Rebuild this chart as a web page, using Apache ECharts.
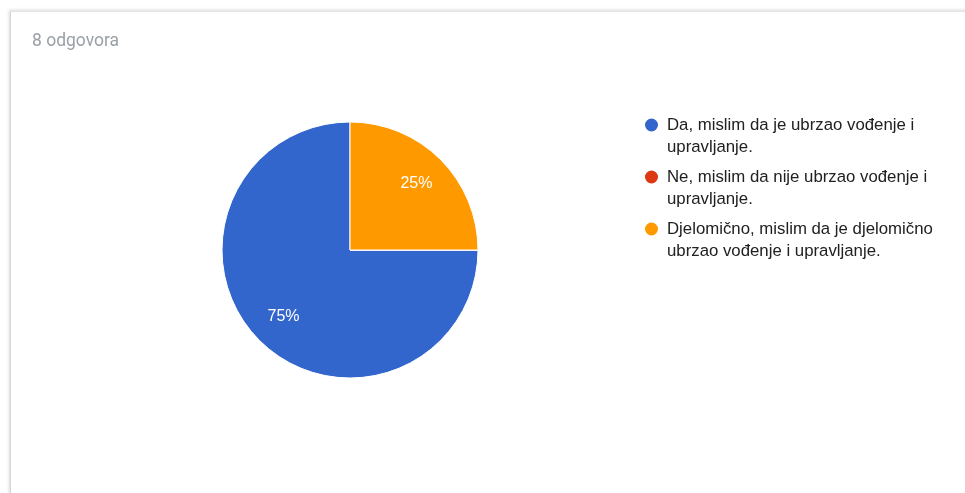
<!DOCTYPE html>
<html>
<head>
<meta charset="utf-8">
<script src="https://cdn.jsdelivr.net/npm/echarts@6/dist/echarts.min.js"></script>
<style>
  html, body { margin: 0; padding: 0; background: #fff; overflow: hidden; }
  #card {
    position: absolute; left: 10px; top: 11px; width: 1100px; height: 700px;
    border-left: 1px solid #d6d6d6; border-top: 1px solid #e4e4e4;
    box-shadow: -1px -1px 3px rgba(0,0,0,0.15);
  }
  #main { position: absolute; left: 0; top: 0; width: 965px; height: 493px; }
</style>
</head>
<body>
<div id="card"></div>
<div id="main"></div>
<script>
// podaci iz ankete
var categories = [
  'Da, mislim da je ubrzao vođenje i\nupravljanje.',
  'Ne, mislim da nije ubrzao vođenje i\nupravljanje.',
  'Djelomično, mislim da je djelomično\nubrzao vođenje i upravljanje.'
];
var counts = [6, 0, 2];
var colors = ['#3366cc', '#dc3912', '#ff9900'];
var responses = '8 odgovora';

var chart = echarts.init(document.getElementById('main'));

var pieData = categories.map(function (name, i) {
  return { name: name, value: counts[i], itemStyle: { color: colors[i] } };
});

var option = {
  animation: false,
  title: {
    text: responses,
    left: 32,
    top: 33,
    padding: 0,
    textStyle: { fontFamily: 'Roboto', fontSize: 17.5, fontWeight: 'normal', color: '#9aa0a6' }
  },
  legend: {
    orient: 'vertical',
    left: 643,
    top: 92,
    padding: 0,
    itemWidth: 21,
    itemHeight: 15,
    itemGap: -14,
    icon: 'circle',
    data: categories,
    // prazan red ispred da prvi red teksta bude u visini ikone
    formatter: function (name) { return '\n' + name; },
    textStyle: {
      fontFamily: 'Liberation Sans',
      fontSize: 16.8,
      color: '#212121',
      lineHeight: 22
    }
  },
  series: [
    {
      name: 'odgovori',
      type: 'pie',
      center: [350, 250],
      radius: 128,
      clockwise: false,
      startAngle: 90,
      label: { show: false },
      labelLine: { show: false },
      itemStyle: { borderColor: '#fff', borderWidth: 1 },
      emphasis: { disabled: true },
      data: pieData
    },
    {
      // samo za postotke (pozicija kao u Google Forms)
      name: 'postotci',
      type: 'pie',
      center: [350, 250],
      radius: [54, 128],
      clockwise: false,
      startAngle: 90,
      silent: true,
      itemStyle: { color: 'rgba(0,0,0,0)' },
      label: {
        show: true,
        position: 'inside',
        fontFamily: 'Liberation Sans',
        fontSize: 16,
        color: '#fff',
        formatter: function (p) { return p.value ? p.percent.toFixed(0) + '%' : ''; }
      },
      labelLine: { show: false },
      data: categories.map(function (name, i) { return { name: name, value: counts[i] }; })
    }
  ]
};

chart.setOption(option);
</script>
</body>
</html>
